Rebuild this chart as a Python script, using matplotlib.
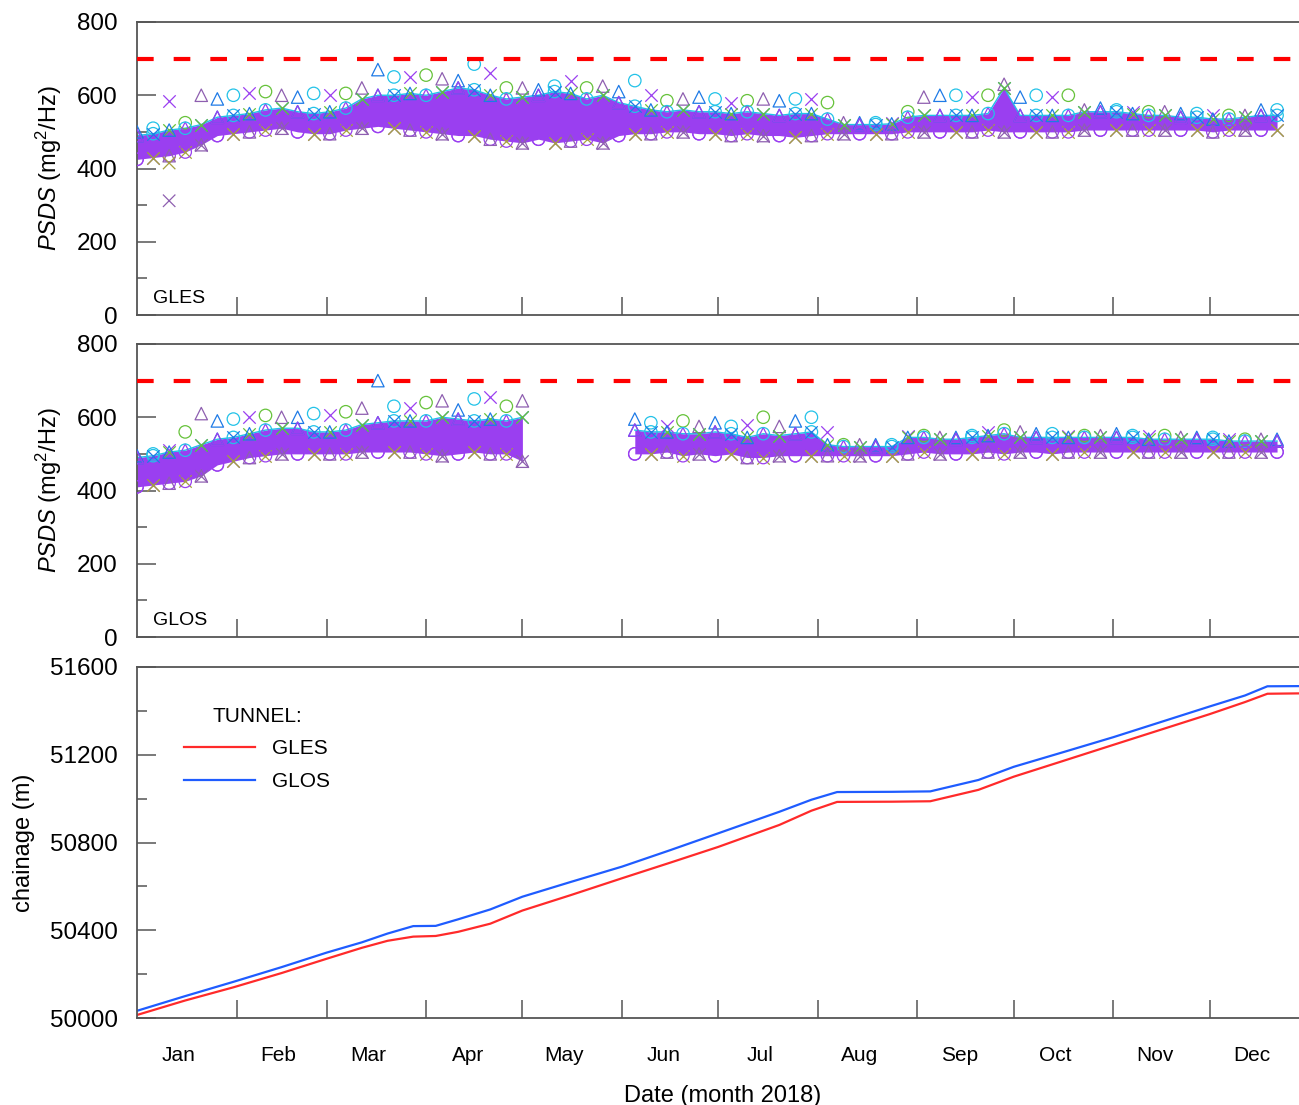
import numpy as np
import matplotlib
matplotlib.use("Agg")
import matplotlib.pyplot as plt
import matplotlib.dates as mdates

plt.rcParams["font.family"] = ["Liberation Sans", "DejaVu Sans"]
plt.rcParams["mathtext.fontset"] = "custom"
plt.rcParams["mathtext.rm"] = "Liberation Sans"
plt.rcParams["mathtext.it"] = "Liberation Sans:italic"

START = np.datetime64("2018-01-01")

# ---- GLES tunnel PSDS, one sample every 5 days (day of year) ----
gles_days = list(range(0, 360, 5))
gles_lo = [425, 430, 435, 445, 465, 490, 495, 500, 505, 510,
           500, 495, 495, 505, 510, 515, 510, 505, 500, 495,
           490, 490, 480, 475, 470, 480, 470, 475, 480, 470,
           490, 495, 495, 500, 500, 495, 495, 490, 495, 490,
           490, 485, 490, 495, 495, 495, 495, 495, 500, 500,
           500, 500, 500, 505, 500, 500, 500, 500, 500, 505,
           505, 505, 505, 505, 505, 505, 505, 500, 505, 505,
           505, 505]
gles_hi = [490, 495, 505, 510, 520, 540, 545, 550, 560, 565,
           555, 550, 555, 565, 590, 600, 600, 605, 600, 610,
           620, 615, 600, 590, 595, 600, 610, 605, 590, 600,
           580, 570, 560, 555, 560, 555, 555, 550, 555, 550,
           545, 550, 550, 535, 520, 520, 520, 522, 540, 545,
           545, 545, 545, 550, 620, 545, 545, 545, 545, 555,
           555, 555, 550, 545, 545, 540, 540, 535, 535, 540,
           545, 545]
gles_pk = [500, 510, 585, 525, 600, 590, 600, 605, 610, 600,
           595, 605, 600, 605, 620, 670, 650, 650, 655, 645,
           640, 685, 660, 620, 620, 615, 625, 640, 620, 625,
           610, 640, 600, 585, 590, 595, 590, 580, 585, 590,
           585, 590, 590, 580, 525, 525, 525, 525, 555, 595,
           600, 600, 595, 600, 630, 595, 600, 595, 600, 560,
           565, 560, 555, 555, 555, 550, 550, 545, 545, 545,
           560, 560]
gles_out_days = [10, 10]
gles_out = [312, 415]

# ---- GLOS tunnel PSDS, before and after the May gap ----
glos_days_a = list(range(0, 125, 5))
glos_lo_a = [410, 415, 420, 425, 440, 470, 480, 490, 495, 500,
             500, 500, 500, 500, 505, 505, 505, 505, 500, 495,
             500, 505, 500, 500, 480]
glos_hi_a = [490, 495, 505, 510, 525, 540, 545, 555, 565, 570,
             570, 560, 560, 565, 580, 585, 590, 590, 590, 600,
             595, 590, 595, 590, 600]
glos_pk_a = [495, 500, 510, 560, 610, 590, 595, 600, 605, 600,
             600, 610, 605, 615, 625, 700, 630, 625, 640, 645,
             620, 650, 655, 630, 645]

glos_days_b = list(range(155, 360, 5))
glos_lo_b = [500, 500, 505, 495, 500, 495, 500, 490, 490, 495,
             495, 495, 495, 495, 495, 495, 495, 500, 505, 500,
             500, 500, 505, 500, 505, 505, 500, 505, 505, 505,
             505, 505, 505, 505, 505, 505, 505, 505, 505, 505,
             505]
glos_hi_b = [565, 560, 560, 555, 555, 560, 555, 545, 555, 550,
             555, 560, 525, 520, 520, 520, 520, 545, 545, 540,
             540, 545, 550, 555, 545, 545, 545, 545, 545, 545,
             545, 545, 540, 540, 540, 540, 540, 535, 535, 535,
             535]
glos_pk_b = [595, 585, 575, 590, 575, 585, 575, 580, 600, 575,
             590, 600, 560, 525, 525, 525, 525, 550, 550, 545,
             545, 550, 560, 565, 560, 555, 555, 550, 550, 550,
             555, 550, 550, 550, 545, 545, 545, 540, 540, 540,
             540]

threshold = 700

# ---- chainage of both tunnel boring machines ----
ch_days = [0, 15, 30, 45, 59, 70, 78, 86, 93, 100, 110, 120, 135, 151, 166,
           181, 200, 210, 218, 235, 247, 262, 273, 288, 304, 319, 334, 345,
           352, 364]
ch_gles = [50014, 50080, 50140, 50205, 50270, 50320, 50352, 50371, 50374,
           50393, 50430, 50490, 50560, 50637, 50708, 50780, 50880, 50945,
           50985, 50986, 50988, 51040, 51100, 51170, 51245, 51315, 51385,
           51440, 51478, 51480]
ch_glos = [50033, 50100, 50165, 50232, 50298, 50345, 50385, 50419, 50420,
           50450, 50495, 50553, 50620, 50690, 50765, 50842, 50940, 50995,
           51030, 51031, 51033, 51085, 51145, 51210, 51280, 51350, 51420,
           51470, 51512, 51513]

PURPLE = "#9a3ff0"
BLUE = "#1e7ae6"
CYAN = "#22c2e8"
GREEN = "#66c23a"
OLIVE = "#a6a040"
MAUVE = "#8e5fb0"
AXCOL = "#555555"

# marker/colour pairs cycled along each edge of the band
TOP_STYLES = [("^", BLUE), ("o", CYAN), ("x", GREEN), ("^", PURPLE), ("x", BLUE)]
BOTTOM_STYLES = [("o", PURPLE), ("x", MAUVE), ("o", PURPLE), ("x", OLIVE), ("^", MAUVE)]
PEAK_STYLES = [("^", BLUE), ("o", CYAN), ("x", PURPLE), ("o", GREEN), ("^", MAUVE)]


def to_dates(days):
    return START + np.array(days).astype("timedelta64[D]")


def cycle_scatter(ax, t, vals, styles, shift=0):
    vals = np.asarray(vals)
    n = len(styles)
    for k, (m, col) in enumerate(styles):
        idx = slice((k + shift) % n, None, n)
        if m == "x":
            ax.scatter(t[idx], vals[idx], marker=m, c=col, s=80,
                       linewidths=0.9, zorder=3)
        else:
            ax.scatter(t[idx], vals[idx], marker=m, facecolors="none",
                       edgecolors=col, s=80, linewidths=0.9, zorder=3)


def draw_band(ax, days, lo, hi, pk):
    t = to_dates(days)
    ax.fill_between(t, lo, hi, color=PURPLE, lw=0, zorder=2)
    ax.plot(t, hi, color=CYAN, lw=1.0, zorder=2)
    cycle_scatter(ax, t, pk, PEAK_STYLES)
    cycle_scatter(ax, t, hi, TOP_STYLES)
    cycle_scatter(ax, t, hi, TOP_STYLES, shift=2)
    cycle_scatter(ax, t, lo, BOTTOM_STYLES)
    cycle_scatter(ax, t, lo, BOTTOM_STYLES, shift=3)


def style_axis(ax):
    for side in ["left", "top", "bottom"]:
        ax.spines[side].set_color(AXCOL)
        ax.spines[side].set_linewidth(1.3)
    ax.spines["right"].set_visible(False)
    ax.set_xlim(START, START + np.timedelta64(8684, "h"))
    ax.xaxis.set_major_locator(mdates.MonthLocator(bymonth=range(2, 13)))
    ax.xaxis.set_major_formatter(plt.NullFormatter())
    ax.xaxis.set_minor_locator(mdates.MonthLocator(bymonthday=14))
    ax.xaxis.set_minor_formatter(plt.NullFormatter())
    ax.tick_params(axis="x", which="major", direction="in", length=13,
                   width=1.1, color=AXCOL)
    ax.tick_params(axis="x", which="minor", length=0)
    ax.tick_params(axis="y", which="major", direction="in", length=14,
                   width=1.1, color=AXCOL, labelsize=17.5, pad=14)
    ax.tick_params(axis="y", which="minor", direction="in", length=7,
                   width=1.1, color=AXCOL)
    ax.tick_params(top=False, right=False, which="both")


fig = plt.figure(figsize=(12.99, 11.05), dpi=100)
ax1 = fig.add_axes([0.1055, 0.7149, 0.8945, 0.2652])
ax2 = fig.add_axes([0.1055, 0.4235, 0.8945, 0.2652])
ax3 = fig.add_axes([0.1055, 0.0787, 0.8945, 0.3177])

for ax, name in [(ax1, "GLES"), (ax2, "GLOS")]:
    style_axis(ax)
    ax.set_ylim(0, 800)
    ax.set_yticks([0, 200, 400, 600, 800])
    ax.set_yticks([100, 300, 500, 700], minor=True)
    ax.axhline(threshold, color="#ff0000", lw=3, ls=(0, (4, 4.8)), zorder=4)
    ax.text(0.014, 0.04, name, transform=ax.transAxes, fontsize=14,
            va="baseline", ha="left")
    ax.set_ylabel(r"$PSDS$ (mg$^2$/Hz)", fontsize=17)
    ax.yaxis.set_label_coords(-0.063, 0.5)

draw_band(ax1, gles_days, gles_lo, gles_hi, gles_pk)
ax1.scatter(to_dates(gles_out_days), gles_out, marker="x", c=[MAUVE, OLIVE],
            s=80, linewidths=0.9, zorder=3)
draw_band(ax2, glos_days_a, glos_lo_a, glos_hi_a, glos_pk_a)
draw_band(ax2, glos_days_b, glos_lo_b, glos_hi_b, glos_pk_b)

style_axis(ax3)
ax3.plot(to_dates(ch_days), ch_gles, color="#ff2a2a", lw=1.6, label="GLES")
ax3.plot(to_dates(ch_days), ch_glos, color="#1f5cff", lw=1.6, label="GLOS")
ax3.set_ylim(50000, 51600)
ax3.set_yticks([50000, 50400, 50800, 51200, 51600])
ax3.set_yticks([50200, 50600, 51000, 51400], minor=True)
ax3.xaxis.set_minor_formatter(mdates.DateFormatter("%b"))
ax3.tick_params(axis="x", which="minor", labelsize=15, pad=20)
ax3.set_ylabel("chainage (m)", fontsize=17)
ax3.yaxis.set_label_coords(-0.088, 0.5)
ax3.set_xlabel("Date (month 2018)", fontsize=17)
ax3.xaxis.set_label_coords(0.504, -0.19)
leg = ax3.legend(title="TUNNEL:", loc="upper left", bbox_to_anchor=(0.033, 0.91),
                 frameon=False, fontsize=15, title_fontsize=15,
                 handlelength=3.4, handletextpad=0.85, labelspacing=0.65,
                 borderaxespad=0)

fig.savefig("out.png", dpi=100)
